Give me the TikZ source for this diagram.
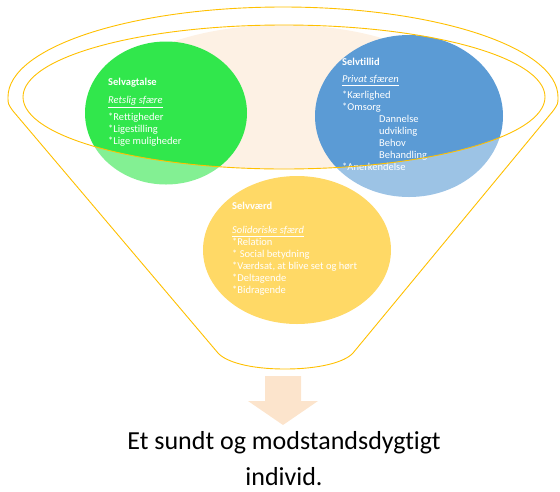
\documentclass[tikz,border=0pt]{standalone}
\usepackage{fontspec}
\setmainfont{Carlito}[Ligatures={NoCommon}]
\usepackage{xcolor}
\usetikzlibrary{shapes.geometric}

\definecolor{funnelgold}{HTML}{FFC000}
\definecolor{peach}{HTML}{FDF1E4}
\definecolor{arrowpeach}{HTML}{FCE4CC}
\definecolor{sphgreen}{HTML}{31E74C}
\definecolor{sphblue}{HTML}{5B9BD5}
\definecolor{sphyellow}{HTML}{FFD966}

\tikzset{
    sphere/.style={ellipse, inner sep=0pt, draw=none},
    spheretext/.style={anchor=north west, inner sep=0pt, align=left, text=white,
        font=\fontsize{10.5}{12}\selectfont},
    rim/.style={draw=funnelgold, line width=0.9pt},
}

\begin{document}
\begin{tikzpicture}[x=1pt,y=-1pt]
    \useasboundingbox (0,0) rectangle (560,491);

    % Peach inside the opening
    \begin{scope}
        \clip (284,97) ellipse [x radius=261, y radius=72];
        \fill[peach] (283,100) ellipse [x radius=175, y radius=75];
    \end{scope}

    % Back spheres
    \node[sphere, fill=sphgreen, minimum width=162, minimum height=143] (green) at (166,113) {};
    \node[sphere, fill=sphblue, minimum width=188, minimum height=162] (blue) at (409,116) {};

    \node[spheretext] (greentext) at (108,78) {\textbf{Selvagtalse}\\[6pt]
        \underline{\textit{Retslig sfære}}\\[5pt]
        *Rettigheder\\
        *Ligestilling\\
        *Lige muligheder};

    \node[spheretext] (bluetext) at (342,58) {\textbf{Selvtillid}\\[5pt]
        \underline{\textit{Privat sfæren}}\\[4pt]
        *Kærlighed\\
        *Omsorg\\
        \hspace*{37pt}Dannelse\\
        \hspace*{37pt}udvikling\\
        \hspace*{37pt}Behov\\
        \hspace*{37pt}Behandling\\
        *Anerkendelse};

    % Funnel body (veils what lies below the opening)
    \path[rim, fill=white, fill opacity=0.4, even odd rule]
        (8,97) arc [start angle=180, end angle=360, x radius=275, y radius=90]
        .. controls (558,104) .. (553,111) -- (353,353)
        .. controls (345,362) and (320,369) .. (285,369)
        .. controls (250,369) and (226,362) .. (218,353)
        -- (13,111) .. controls (8,104) .. (8,97) -- cycle
        (284,97) ellipse [x radius=261, y radius=72];

    % Front sphere
    \node[sphere, fill=sphyellow, minimum width=188, minimum height=148] (yellow) at (297,250) {};
    \node[spheretext] (yellowtext) at (232,202) {\textbf{Selvværd}\\
        \\
        \underline{\textit{Solidoriske sfærd}}\\
        *Relation\\
        * Social betydning\\
        *Værdsat, at blive set og hørt\\
        *Deltagende\\
        *Bidragende};

    % Down arrow
    \fill[arrowpeach] (265,376) -- (301,376) -- (301,401) -- (318,401)
        -- (283,425) -- (248,401) -- (265,401) -- cycle;

    % Result
    \node[anchor=north, align=center, inner sep=0pt,
        font=\fontsize{26}{36}\selectfont] (result) at (284,431)
        {Et sundt og modstandsdygtigt\\individ.};
\end{tikzpicture}
\end{document}
